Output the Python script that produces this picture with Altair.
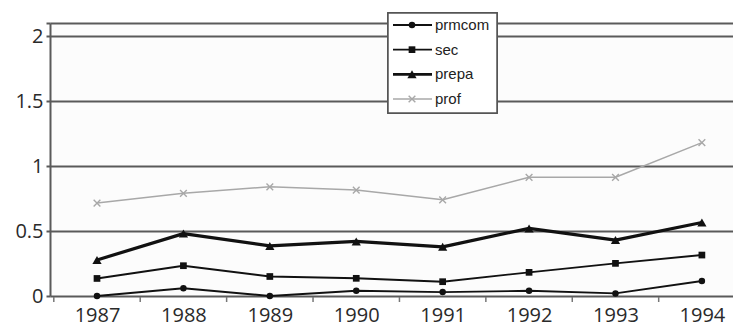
import altair as alt
import pandas as pd

years = [1987, 1988, 1989, 1990, 1991, 1992, 1993, 1994]
prmcom = [0.00, 0.06, 0.00, 0.04, 0.03, 0.04, 0.02, 0.115]
sec = [0.135, 0.233, 0.15, 0.136, 0.11, 0.182, 0.251, 0.315]
prepa = [0.277, 0.48, 0.385, 0.42, 0.378, 0.52, 0.43, 0.565]
prof = [0.715, 0.79, 0.84, 0.815, 0.74, 0.913, 0.913, 1.18]

series_names = ["prmcom", "sec", "prepa", "prof"]
series_colors = ["#111111", "#111111", "#111111", "#a8a8a8"]
series_widths = [1.9, 1.9, 3.2, 1.5]
series_shapes = ["circle", "square", "triangle-up", "M-1,-1L1,1M-1,1L1,-1"]
series_sizes = [42, 45, 85, 45]
series_filled = [True, True, True, False]

rows = []
for name, vals in zip(series_names, [prmcom, sec, prepa, prof]):
    for y, v in zip(years, vals):
        rows.append({"year": y, "value": v, "series": name})
df = pd.DataFrame(rows)
legend_df = pd.DataFrame({"series": series_names})
ticks_df = pd.DataFrame({"mid": [y + 0.5 for y in years[:-1]] + [years[0] - 0.5]})

FONT = "Open Sans"
x_scale = alt.Scale(domain=[1986.456, 1994.36], nice=False, zero=False)
y_scale = alt.Scale(domain=[0, 2.1], nice=False)

x_axis = alt.Axis(
    values=years, format="d", title=None, grid=False, ticks=False, domain=False,
    labelFont=FONT, labelFontSize=20, labelColor="#2a2a2a", labelPadding=9,
)
y_axis = alt.Axis(
    values=[0, 0.5, 1, 1.5, 2, 2.1],
    labelExpr="datum.value > 2.05 ? '' : format(datum.value, '~g')",
    title=None, grid=True, gridColor="#5a5a5a", gridWidth=2, gridOpacity=1,
    tickColor="#5a5a5a", tickSize=4, tickWidth=2,
    domain=True, domainColor="#5a5a5a", domainWidth=2,
    labelFont=FONT, labelFontSize=20, labelColor="#2a2a2a", labelPadding=3,
)

# axes / grid holder + small category ticks
base_axes = alt.Chart(df).mark_point(opacity=0).encode(
    x=alt.X("year:Q", scale=x_scale, axis=x_axis),
    y=alt.Y("value:Q", scale=y_scale, axis=y_axis),
)
xticks = alt.Chart(ticks_df).mark_rule(color="#777777", strokeWidth=1.5).encode(
    x=alt.X("mid:Q", scale=x_scale),
    y=alt.value(274),
    y2=alt.value(279),
)

data_layers = [base_axes, xticks]
for name, col, w, shp, sz, fl in zip(series_names, series_colors, series_widths,
                                      series_shapes, series_sizes, series_filled):
    sub = alt.Chart(df).transform_filter(alt.datum.series == name)
    data_layers.append(
        sub.mark_line(color=col, strokeWidth=w, strokeJoin="round").encode(
            x=alt.X("year:Q", scale=x_scale), y=alt.Y("value:Q", scale=y_scale)
        )
    )
    data_layers.append(
        sub.mark_point(shape=shp, size=sz, color=col, filled=fl, opacity=1, strokeWidth=1.4).encode(
            x=alt.X("year:Q", scale=x_scale), y=alt.Y("value:Q", scale=y_scale)
        )
    )

data_chart = alt.layer(*data_layers)

# legend (drawn as marks, one row per series)
ly = alt.Y("series:N", scale=alt.Scale(type="point", domain=series_names, range=[2, 76], padding=0), axis=None)
legend_box = alt.Chart(legend_df).mark_rect(fill="white", stroke="#555555", strokeWidth=1.5).encode(
    x=alt.value(338), x2=alt.value(447), y=alt.value(-10), y2=alt.value(90)
)
legend_layers = [legend_box]
for name, col, w, shp, sz, fl in zip(series_names, series_colors, series_widths,
                                      series_shapes, series_sizes, series_filled):
    sub = alt.Chart(legend_df).transform_filter(alt.datum.series == name)
    legend_layers.append(
        sub.mark_rule(color=col, strokeWidth=min(w, 2.6)).encode(x=alt.value(343), x2=alt.value(382), y=ly)
    )
    legend_layers.append(
        sub.mark_point(shape=shp, size=sz, color=col, filled=fl, opacity=1, strokeWidth=1.4).encode(
            x=alt.value(362), y=ly
        )
    )
legend_layers.append(
    alt.Chart(legend_df).mark_text(align="left", baseline="middle", font="Liberation Sans",
                                   fontSize=15, color="#222222").encode(
        x=alt.value(385), y=ly, text="series:N"
    )
)
legend_chart = alt.layer(*legend_layers)

chart = alt.layer(data_chart, legend_chart).resolve_scale(y="independent").properties(
    width=683,
    height=273,
    autosize=alt.AutoSizeParams(type="none"),
    padding={"left": 50, "top": 23, "right": 0, "bottom": 33},
    background="white",
).configure_view(stroke=None, fill="#fcfcfc")

chart.save("out.html", embed_options={"renderer": "svg", "actions": False})
